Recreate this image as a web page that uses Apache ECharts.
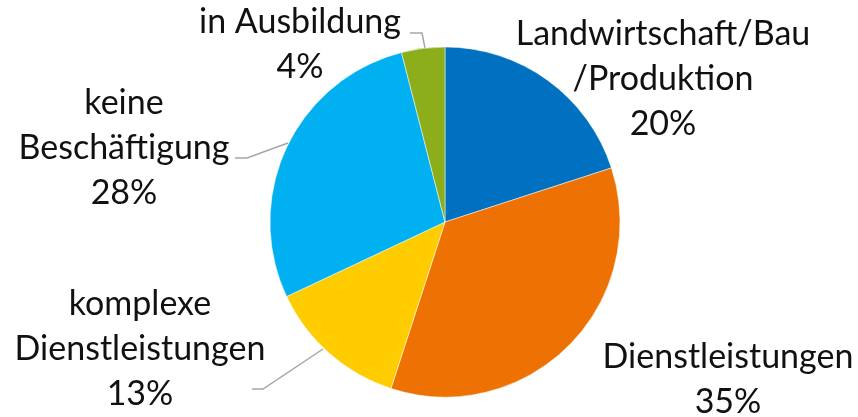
<!DOCTYPE html>
<html>
<head>
<meta charset="utf-8">
<script src="https://cdn.jsdelivr.net/npm/echarts@6/dist/echarts.min.js"></script>
<style>
  html, body { margin: 0; padding: 0; background: #fff; }
  #chart { width: 858px; height: 417px; }
</style>
</head>
<body>
<div id="chart"></div>
<script>
// Anteile nach Tätigkeitsbereich, im Uhrzeigersinn ab 12 Uhr.
const categories = [
  "Landwirtschaft/Bau\n/Produktion",
  "Dienstleistungen",
  "komplexe\nDienstleistungen",
  "keine\nBeschäftigung",
  "in Ausbildung",
];
const values = [20, 35, 13, 28, 4];
const colors = ["#0070C0", "#EE7203", "#FFCC00", "#00B0F0", "#8CAE1A"];

// Label-Positionen (Blockmitte) und Führungslinien, wie im Original.
const labelPos = [
  { x: 663, y: 79 },
  { x: 728, y: 380 },
  { x: 140, y: 349 },
  { x: 124, y: 148 },
  { x: 300, y: 45 },
];
const leaderLines = [
  null,
  null,
  [[323, 349], [263, 389], [252, 389]],
  [[288, 143], [247, 158], [235, 158]],
  [[425, 48], [422, 33], [410, 33]],
];

const chart = echarts.init(document.getElementById("chart"));

chart.setOption({
  backgroundColor: "#fff",
  animation: false,
  series: [{
    type: "pie",
    center: [445, 222],
    radius: 175,
    startAngle: 90,
    clockwise: true,
    itemStyle: { borderColor: "#fff", borderWidth: 0.5 },
    label: {
      show: true,
      formatter: (p) => `${p.name}\n${p.value}%`,
      color: "#111",
      fontFamily: "Lato",
      fontSize: 34,
      lineHeight: 45,
      align: "center",
      overflow: "none",
    },
    labelLine: {
      show: true,
      lineStyle: { color: "#A6A6A6", width: 1.5 },
    },
    labelLayout: (params) => {
      const pos = labelPos[params.dataIndex];
      const out = { x: pos.x, y: pos.y, align: "center", verticalAlign: "middle", width: 400 };
      const pts = leaderLines[params.dataIndex];
      out.labelLinePoints = pts || [[0, 0], [0, 0], [0, 0]];
      return out;
    },
    data: categories.map((name, i) => ({
      name,
      value: values[i],
      itemStyle: { color: colors[i] },
    })),
  }],
});
</script>
</body>
</html>
